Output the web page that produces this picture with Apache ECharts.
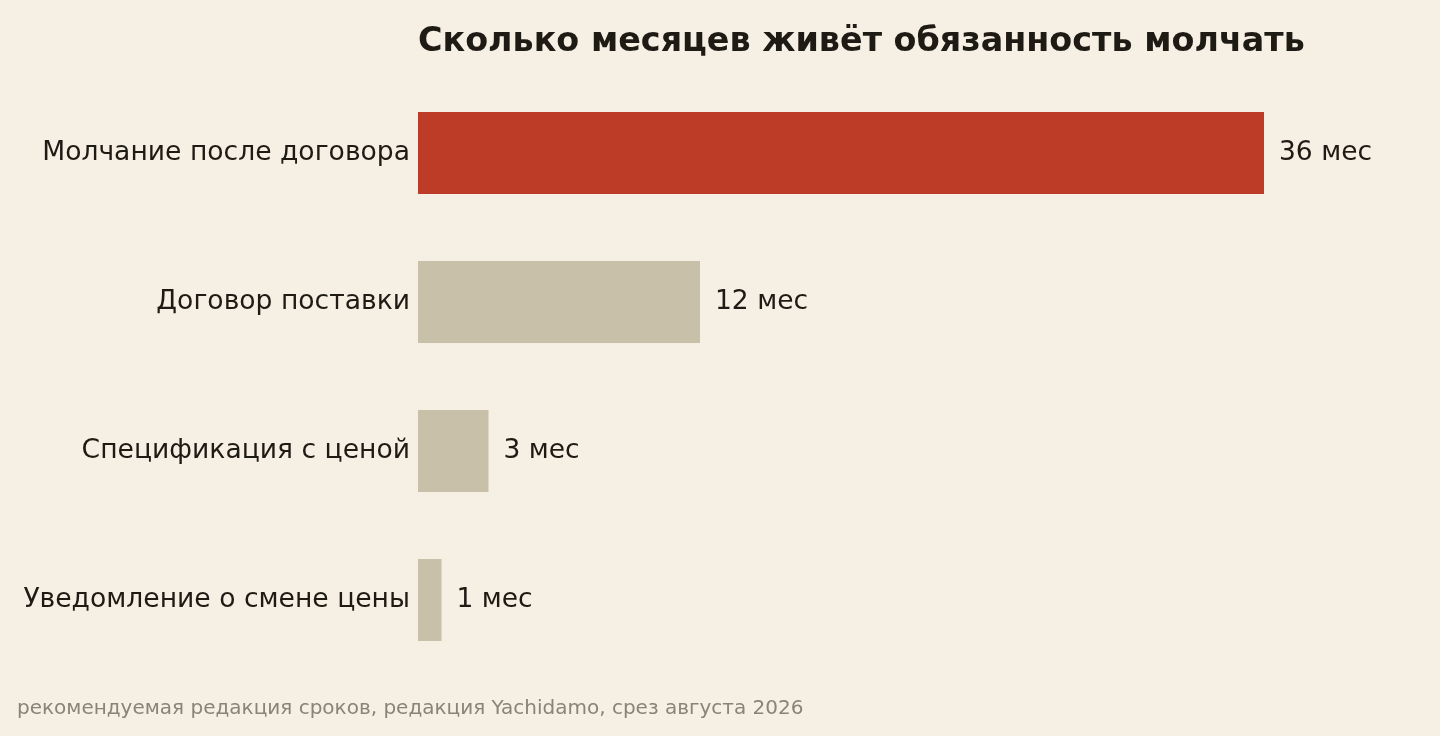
<!DOCTYPE html>
<html>
<head>
<meta charset="utf-8">
<script src="https://cdn.jsdelivr.net/npm/echarts@6/dist/echarts.min.js"></script>
<style>
  html, body { margin: 0; padding: 0; background: #f6f0e4; }
  #main { width: 1440px; height: 736px; }
</style>
</head>
<body>
<div id="main"></div>
<script>
var categories = ['Молчание после договора', 'Договор поставки', 'Спецификация с ценой', 'Уведомление о смене цены'];
var months = [36, 12, 3, 1];
var highlight = [true, false, false, false];

var barData = months.map(function (v, i) {
    return {
        value: v,
        itemStyle: { color: highlight[i] ? '#bc3c27' : '#c9c0a9' }
    };
});

var myChart = echarts.init(document.getElementById('main'));
var option = {
    backgroundColor: '#f6f0e4',
    textStyle: { fontFamily: 'DejaVu Sans' },
    title: [
        {
            text: 'Сколько месяцев живёт обязанность молчать',
            left: 413,
            top: 21,
            textStyle: { fontSize: 33.4, fontWeight: 'bold', color: '#1e1a14', fontFamily: 'DejaVu Sans' }
        },
        {
            text: 'рекомендуемая редакция сроков, редакция Yachidamo, срез августа 2026',
            left: 12,
            top: 694,
            textStyle: { fontSize: 20, fontWeight: 'normal', color: '#8a8378', fontFamily: 'DejaVu Sans' }
        }
    ],
    grid: { left: 418, top: 78.5, width: 846, height: 596, containLabel: false },
    xAxis: {
        type: 'value',
        min: 0,
        max: 36,
        show: false
    },
    yAxis: {
        type: 'category',
        data: categories,
        inverse: true,
        axisLine: { show: false },
        axisTick: { show: false },
        axisLabel: { fontSize: 26.6, color: '#1e1a14', margin: 8, padding: [9, 0, 0, 0], fontFamily: 'DejaVu Sans' }
    },
    series: [
        {
            type: 'bar',
            data: barData,
            barWidth: 82,
            label: {
                show: true,
                position: 'right',
                distance: 15,
                formatter: '{c} мес',
                fontSize: 26.5,
                color: '#1e1a14',
                fontFamily: 'DejaVu Sans'
            }
        }
    ]
};
myChart.setOption(option);
</script>
</body>
</html>
